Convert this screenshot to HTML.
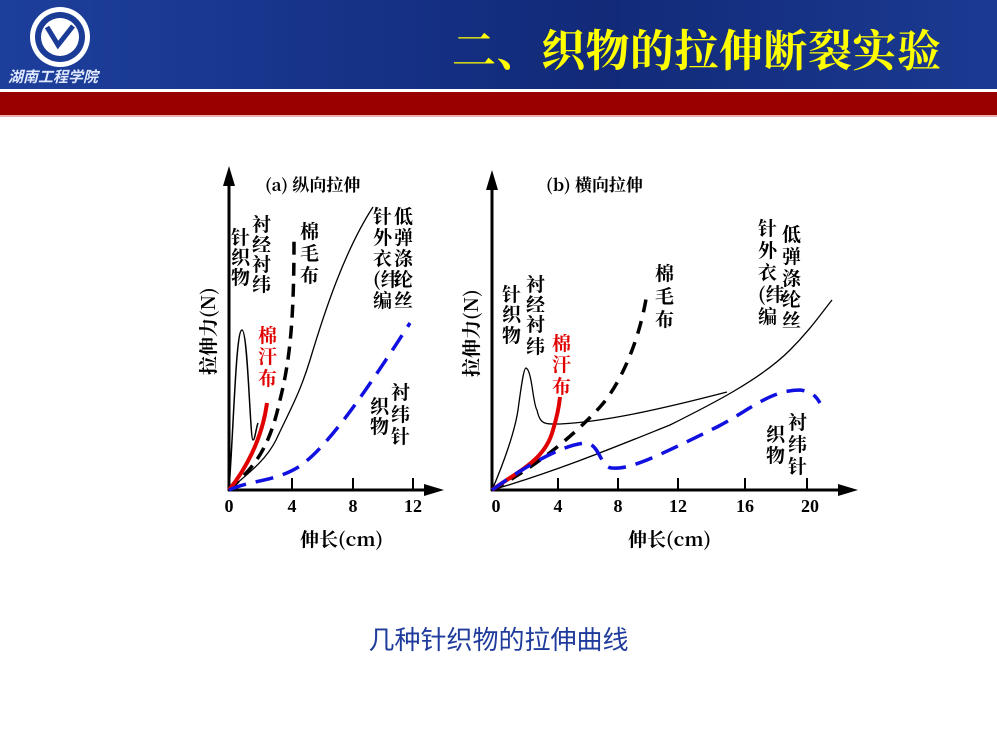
<!DOCTYPE html>
<html><head><meta charset="utf-8"><style>
html,body{margin:0;padding:0;background:#fff;}
body{width:997px;height:748px;position:relative;overflow:hidden;font-family:"Liberation Serif","Noto Serif CJK SC",serif;}
.blue{position:absolute;left:0;top:0;width:997px;height:89px;background:linear-gradient(90deg,#1d3f9c 0%,#142f82 45%,#122a78 60%,#1a3a92 100%);}
.red{position:absolute;left:0;top:92px;width:997px;height:23px;background:#990000;}
.pink{position:absolute;left:0;top:115px;width:997px;height:2px;background:#e8b0b0;}
.title{position:absolute;left:452px;top:20px;font-size:44px;color:#ffff00;font-family:"Noto Serif CJK SC",serif;font-weight:bold;letter-spacing:0.5px;white-space:nowrap;line-height:54px;}
.cap{position:absolute;left:0;width:997px;top:620px;text-align:center;font-size:26px;color:#1f3b9c;font-family:"Liberation Sans","Noto Sans CJK SC",sans-serif;}
</style></head><body>
<div class="blue"></div><div class="red"></div><div class="pink"></div>
<svg style="position:absolute;left:0;top:0" width="130" height="92">
<circle cx="60" cy="37" r="30" fill="#fff"/><circle cx="60" cy="37" r="25" fill="#1b3c96"/><circle cx="60" cy="37" r="19" fill="#fff"/>
<path d="M47 27 L58 45 L73 26" stroke="#1b3c96" stroke-width="5" fill="none"/>
<text x="8" y="82" font-size="15" fill="#dfe8ff" font-style="italic" font-family="Noto Sans CJK SC" font-weight="bold">湖南工程学院</text>
</svg>
<div class="title">二、织物的拉伸断裂实验</div>
<svg style="position:absolute;left:0;top:0" width="997" height="748" font-family="Noto Serif CJK SC,serif" font-weight="bold">
<g stroke="#000" stroke-width="3" fill="none">
<line x1="229" y1="491" x2="229" y2="182"/><line x1="228" y1="490" x2="428" y2="490"/>
<line x1="292" y1="490" x2="292" y2="478" stroke-width="2"/><line x1="353" y1="490" x2="353" y2="478" stroke-width="2"/><line x1="413" y1="490" x2="413" y2="478" stroke-width="2"/>
<line x1="492" y1="491" x2="492" y2="186"/><line x1="491" y1="490" x2="842" y2="490"/>
<line x1="558" y1="490" x2="558" y2="478" stroke-width="2"/><line x1="618" y1="490" x2="618" y2="478" stroke-width="2"/><line x1="678" y1="490" x2="678" y2="478" stroke-width="2"/><line x1="745" y1="490" x2="745" y2="478" stroke-width="2"/><line x1="807" y1="490" x2="807" y2="478" stroke-width="2"/>
</g>
<polygon points="229,166 223,186 235,186" fill="#000"/><polygon points="444,490 424,484 424,496" fill="#000"/>
<polygon points="492,170 486,190 498,190" fill="#000"/><polygon points="858,490 838,484 838,496" fill="#000"/>
<g font-size="18" font-family="Liberation Serif,serif" font-weight="bold" text-anchor="middle">
<text x="229" y="512">0</text><text x="292" y="512">4</text><text x="353" y="512">8</text><text x="413" y="512">12</text>
<text x="496" y="512">0</text><text x="558" y="512">4</text><text x="618" y="512">8</text><text x="678" y="512">12</text><text x="745" y="512">16</text><text x="810" y="512">20</text>
</g>
<text x="265" y="191" font-size="17">(a) 纵向拉伸</text>
<text x="546" y="191" font-size="17">(b) 横向拉伸</text>
<text x="300" y="546" font-size="19">伸长(cm)</text>
<text x="628" y="546" font-size="19">伸长(cm)</text>
<text transform="translate(215,375) rotate(-90)" font-size="19">拉伸力(N)</text>
<text transform="translate(478,377) rotate(-90)" font-size="19">拉伸力(N)</text>
<g fill="none" stroke="#000">
<path d="M229,490 C234,420 236,330 242,330 C248,330 250,440 253,440 C255,440 256,428 258,423" stroke-width="1.5"/>
<path d="M229,490 C250,470 268,455 280,400 C290,360 294,320 294,240" stroke-width="3.5" stroke-dasharray="13,8"/>
<path d="M229,490 C250,472 266,460 276,440 C290,410 300,393 310,360 C325,310 345,250 373,207" stroke-width="1.3"/>
<path d="M229,490 C245,470 262,440 267,403" stroke="#e00000" stroke-width="4"/>
<path d="M229,490 C250,480 275,482 300,466 C330,445 370,385 410,323" stroke="#1010e0" stroke-width="3.5" stroke-dasharray="18,10"/>
</g>
<g fill="none" stroke="#000">
<path d="M492,490 C505,460 515,430 518,410 C522,380 524,368 526,368 C532,370 533,405 537,410 C540,425 545,424 560,424 C600,422 650,412 727,392" stroke-width="1.3"/>
<path d="M492,490 C530,470 570,440 600,407 C620,385 640,340 647,293" stroke-width="3.5" stroke-dasharray="13,9"/>
<path d="M492,490 C560,470 620,445 670,425 C710,405 760,380 790,350 C810,330 820,315 832,300" stroke-width="1.3"/>
<path d="M492,490 C520,470 545,460 553,430 C556,420 559,408 560,397" stroke="#e00000" stroke-width="4"/>
<path d="M492,490 C520,470 560,445 585,443 C600,443 600,468 612,468 C630,470 660,455 717,427 C750,410 770,390 800,390 C815,392 818,400 820,403" stroke="#1010e0" stroke-width="3.5" stroke-dasharray="18,10"/>
</g>
<g font-size="19" font-weight="bold">
<g fill="#000">
<text x="231" y="244">针</text><text x="231" y="264">织</text><text x="231" y="284">物</text>
<text x="252" y="231">衬</text><text x="252" y="251">经</text><text x="252" y="271">衬</text><text x="252" y="291">纬</text>
<text x="300" y="238">棉</text><text x="300" y="260">毛</text><text x="300" y="282">布</text>
<text x="373" y="223">针</text><text x="373" y="244">外</text><text x="373" y="265">衣</text><text x="373" y="286">(纬</text><text x="373" y="307">编</text>
<text x="394" y="223">低</text><text x="394" y="244">弹</text><text x="394" y="265">涤</text><text x="394" y="286">纶</text><text x="394" y="307">丝</text>
<text x="370" y="413">织</text><text x="370" y="433">物</text>
<text x="391" y="399">衬</text><text x="391" y="421">纬</text><text x="391" y="443">针</text>
</g>
<g fill="#e00000"><text x="258" y="342">棉</text><text x="258" y="363">汗</text><text x="258" y="385">布</text></g>
<g fill="#000">
<text x="502" y="301">针</text><text x="502" y="321">织</text><text x="502" y="342">物</text>
<text x="526" y="291">衬</text><text x="526" y="311">经</text><text x="526" y="331">衬</text><text x="526" y="353">纬</text>
<text x="655" y="280">棉</text><text x="655" y="303">毛</text><text x="655" y="326">布</text>
<text x="758" y="235">针</text><text x="758" y="257">外</text><text x="758" y="279">衣</text><text x="758" y="301">(纬</text><text x="758" y="323">编</text>
<text x="782" y="241">低</text><text x="782" y="263">弹</text><text x="782" y="285">涤</text><text x="782" y="306">纶</text><text x="782" y="327">丝</text>
<text x="766" y="441">织</text><text x="766" y="462">物</text>
<text x="788" y="429">衬</text><text x="788" y="451">纬</text><text x="788" y="473">针</text>
</g>
<g fill="#e00000"><text x="552" y="350">棉</text><text x="552" y="371">汗</text><text x="552" y="393">布</text></g>
</g>
</svg>
<div class="cap">几种针织物的拉伸曲线</div>
</body></html>
